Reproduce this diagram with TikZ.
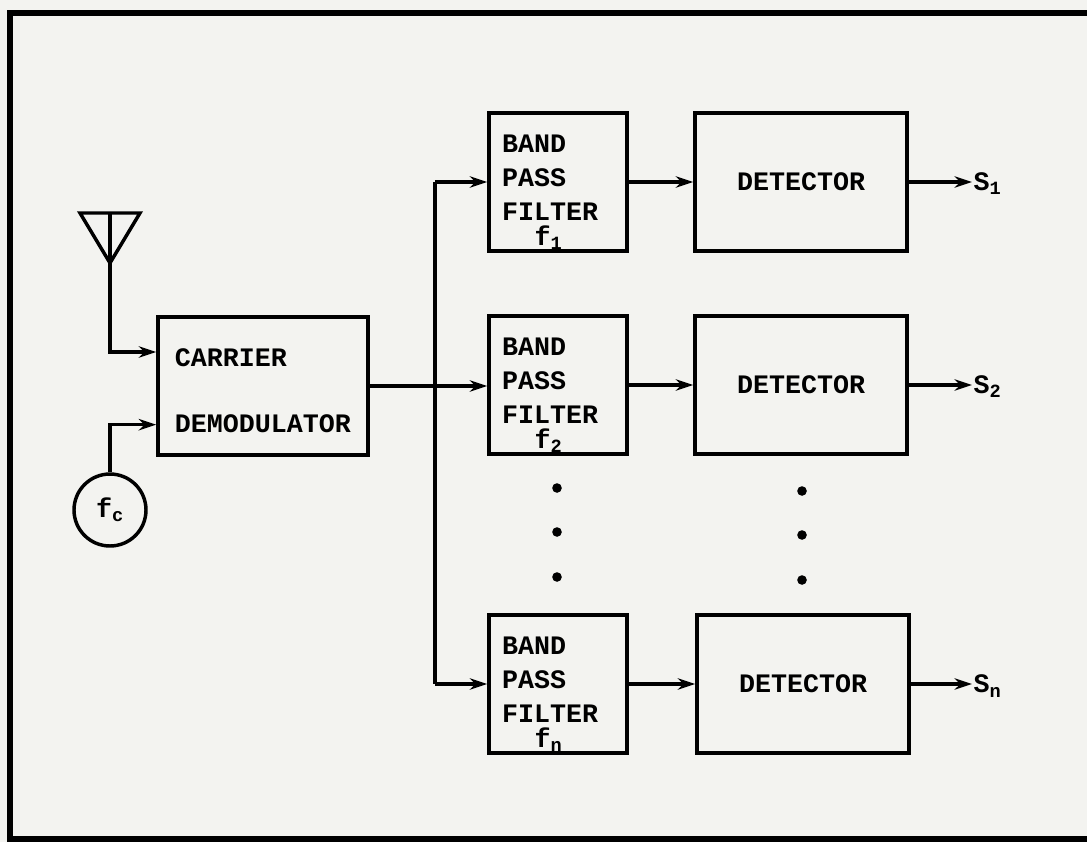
\documentclass[tikz,border=0pt]{standalone}
\usepackage{fontspec}
\setmonofont{Liberation Mono}
\usetikzlibrary{positioning,arrows.meta}
\definecolor{paper}{RGB}{243,243,240}

\tikzset{
    block/.style={draw, line width=2.8pt, minimum height=103pt, font=\ttfamily\bfseries},
    filterbox/.style={block, minimum width=103.5pt, text width=84pt, inner xsep=9.75pt, align=left},
    detbox/.style={block, minimum width=159pt},
    flabel/.style={font=\ttfamily\bfseries, inner sep=1pt},
    sig/.style={line width=2.6pt, -{Stealth[length=13pt,width=8.5pt]}},
    wire/.style={line width=2.6pt}
}

\begin{document}
\begin{tikzpicture}[x=0.75pt,y=-0.75pt]
    \fontsize{20}{25.5}\selectfont
    \fill[paper] (0,0) rectangle (1087,842);
    \useasboundingbox (0,0) rectangle (1087,842);
    \draw[line width=3.8pt] (10,13) rectangle (1092,839);

    % receiver front end
    \node[block, minimum width=157.5pt, align=left] (carrier) at (263,386)
        {CARRIER\rule{0pt}{21pt}\\[24pt]DEMODULATOR};
    \node[draw, circle, line width=2.6pt, minimum size=54pt, inner sep=0pt,
        font=\ttfamily\bfseries] (fc) at (110,510) {f\textsubscript{c}};
    \draw[wire, line join=miter] (80,213) -- (140,213) -- (110,263) -- cycle;
    \draw[wire] (110,213) -- (110,263);
    \coordinate (ant) at (110,263);

    % filter bank
    \node[filterbox] (bpf1) at (558,182) {BAND\\PASS\\FILTER\rule[-6pt]{0pt}{6pt}};
    \node[filterbox] (bpf2) at (558,385) {BAND\\PASS\\FILTER\rule[-6pt]{0pt}{6pt}};
    \node[filterbox] (bpfn) at (558,684) {BAND\\PASS\\FILTER\rule[-6pt]{0pt}{6pt}};
    \node[flabel, above=1pt of bpf1.south, xshift=-7pt] {f\textsubscript{1}};
    \node[flabel, above=1pt of bpf2.south, xshift=-7pt] {f\textsubscript{2}};
    \node[flabel, above=1pt of bpfn.south, xshift=-7pt] {f\textsubscript{n}};

    \node[detbox] (det1) at (801,182) {DETECTOR};
    \node[detbox] (det2) at (801,385) {DETECTOR};
    \node[detbox] (detn) at (803,684) {DETECTOR};

    \node[flabel, anchor=west] (s1) at (972,184) {S\textsubscript{1}};
    \node[flabel, anchor=west] (s2) at (972,387) {S\textsubscript{2}};
    \node[flabel, anchor=west] (sn) at (972,686) {S\textsubscript{n}};

    \coordinate (bustop) at (435,182);
    \coordinate (busbot) at (435,684);

    \draw[sig] (ant) |- ([yshift=25.5pt]carrier.west);
    \draw[sig] (fc.north) |- ([yshift=-29pt]carrier.west);
    \draw[wire] (bustop) -- (busbot);
    \draw[sig] (carrier.east) -- (carrier.east -| bpf2.west);
    \draw[sig] (bustop) -- (bpf1.west);
    \draw[sig] (busbot) -- (bpfn.west);

    \draw[sig] (bpf1) -- (det1);
    \draw[sig] (bpf2) -- (det2);
    \draw[sig] (bpfn) -- (detn);
    \draw[sig] (det1.east) -- (det1.east -| s1.west);
    \draw[sig] (det2.east) -- (det2.east -| s2.west);
    \draw[sig] (detn.east) -- (detn.east -| sn.west);

    % dots between the rows
    \foreach \y in {488,532,577} {
        \fill (557,\y) circle (3.6pt);
        \fill (802,\y+3) circle (3.6pt);
    }
\end{tikzpicture}
\end{document}
